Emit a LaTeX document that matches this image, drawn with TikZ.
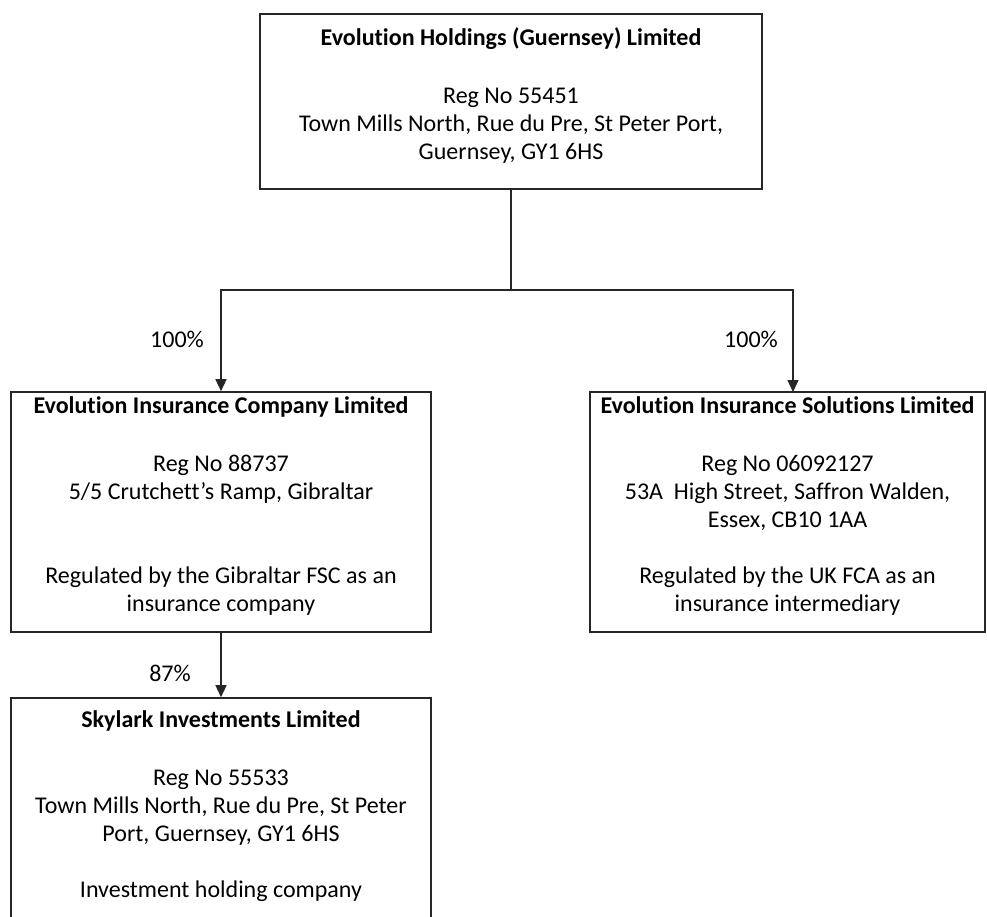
\documentclass[tikz,border=0pt]{standalone}
\usepackage{fontspec}
\setmainfont{Carlito}[RawFeature=-liga]
\usetikzlibrary{arrows.meta,positioning}
\begin{document}
\begin{tikzpicture}[x=1pt,y=-1pt,
  cbox/.style={draw=black!85,line width=1.6pt,inner sep=0pt},
  ctext/.style={anchor=north,align=center,inner sep=0pt,font=\fontsize{24}{28}\selectfont},
  conn/.style={draw=black!85,line width=1.4pt},
  arr/.style={conn,-{Triangle[length=12pt,width=11pt]}},
  pct/.style={font=\fontsize{24}{28}\selectfont,inner sep=0pt}]
\clip (0,0) rectangle (987,916);
\fill[white] (0,0) rectangle (987,916);
% boxes
\node[cbox,minimum width=502pt,minimum height=175pt] (top) at (511,101.5) {};
\node[cbox,minimum width=420pt,minimum height=240pt] (left) at (221,512) {};
\node[cbox,minimum width=395pt,minimum height=240pt] (right) at (787.5,512) {};
\node[cbox,minimum width=420pt,minimum height=260pt] (sky) at (221,828) {};
% texts
\node[ctext] (toptxt) at (511,27) {\textbf{Evolution Holdings (Guernsey) Limited}\\[2pt]\mbox{}\\Reg No 55451\\Town Mills North, Rue du Pre, St Peter Port,\\Guernsey, GY1 6HS};
\node[ctext] (lefttxt) at (221,396) {\textbf{Evolution Insurance Company Limited}\\[2pt]\mbox{}\\Reg No 88737\\5/5 Crutchett’s Ramp, Gibraltar\\\mbox{}\\\mbox{}\\Regulated by the Gibraltar FSC as an\\insurance company};
\node[ctext] (righttxt) at (787.5,396) {\textbf{Evolution Insurance Solutions Limited}\\[2pt]\mbox{}\\Reg No 06092127\\53A\ \ High Street, Saffron Walden,\\Essex, CB10 1AA\\\mbox{}\\Regulated by the UK FCA as an\\insurance intermediary};
\node[ctext] (skytxt) at (221,710) {\textbf{Skylark Investments Limited}\\[2pt]\mbox{}\\Reg No 55533\\Town Mills North, Rue du Pre, St Peter\\Port, Guernsey, GY1 6HS\\\mbox{}\\Investment holding company};
% connectors
\coordinate (j) at (511,290);
\coordinate (rn) at (793,392);
\draw[conn] (top.south) -- (j);
\draw[arr] (j) -| (left.north);
\draw[arr] (j) -| (rn);
\draw[arr] (left.south) -- (sky.north);
% labels
\node[pct] (p1) at (177,339) {100\%};
\node[pct] (p2) at (751,339) {100\%};
\node[pct] (p3) at (170,673) {87\%};
\end{tikzpicture}
\end{document}
